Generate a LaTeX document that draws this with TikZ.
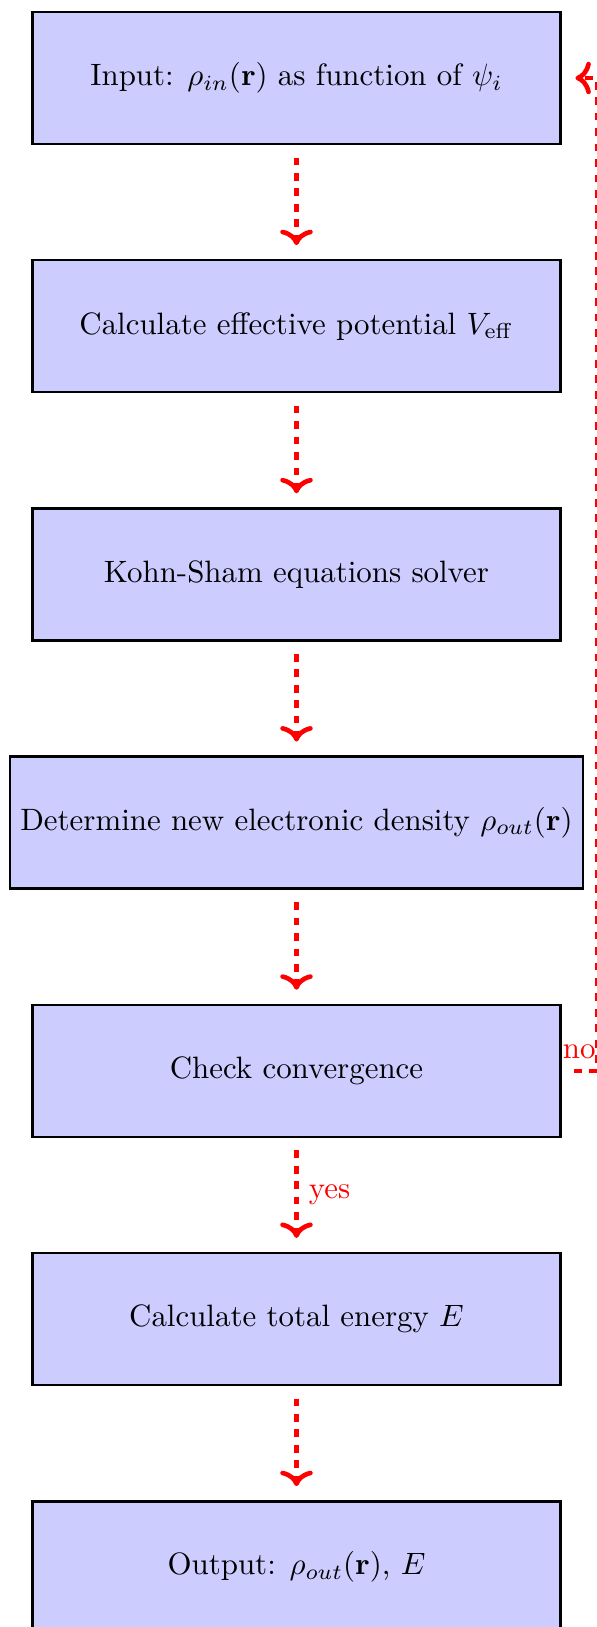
\documentclass[tikz,border=0pt]{standalone}
\usetikzlibrary{arrows.meta}
\begin{document}
\begin{tikzpicture}[x=0.3236pt,y=-0.3236pt,
  box/.style={draw=black, thick, fill=blue!20, minimum width=6cm, minimum height=1.5cm},
  flow/.style={red, -{Computer Modern Rightarrow[length=5pt, width=10.5pt, line width=1.5pt]}, line width=1.3pt, dash pattern=on 2.5pt off 2.5pt, shorten <=4pt, shorten >=4.5pt},
  lab/.style={red}]
\useasboundingbox (0,0) rectangle (597,1627);
\node[box] (in)   at (296.5,78)     {Input: $\rho_{in}(\mathbf{r})$ as function of $\psi_i$};
\node[box] (veff) at (296.5,326.2)  {Calculate effective potential $V_{\mathrm{eff}}$};
\node[box] (ks)   at (296.5,574.4)  {Kohn-Sham equations solver};
\node[box] (dens) at (296.5,822.6)  {Determine new electronic density $\rho_{out}(\mathbf{r})$};
\node[box] (conv) at (296.5,1070.8) {Check convergence};
\node[box] (en)   at (296.5,1319)   {Calculate total energy $E$};
\node[box] (out)  at (296.5,1567.2) {Output: $\rho_{out}(\mathbf{r})$, $E$};
\coordinate (c1) at (597,1070.8);
\coordinate (c2) at (597,78);
\draw[flow] (in) -- (veff);
\draw[flow] (veff) -- (ks);
\draw[flow] (ks) -- (dens);
\draw[flow] (dens) -- (conv);
\draw[flow] (conv) -- node[lab, right] {yes} (en);
\draw[flow] (en) -- (out);
\draw[flow] (conv.east) -- node[lab, above] {no} (c1) -- (c2) -- (in.east);
\end{tikzpicture}
\end{document}
